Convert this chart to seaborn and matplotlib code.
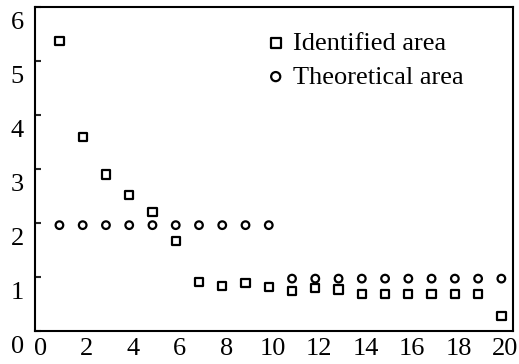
import matplotlib
matplotlib.use("Agg")
import matplotlib.pyplot as plt
import matplotlib.transforms as mtransforms
import seaborn as sns
import pandas as pd

# Data
index = list(range(1, 21))
identified = [5.37, 3.59, 2.90, 2.52, 2.20, 1.67, 0.91, 0.83, 0.89, 0.81,
              0.74, 0.80, 0.77, 0.69, 0.69, 0.69, 0.69, 0.69, 0.69, 0.28]
theoretical = [1.96] * 10 + [0.97] * 10
x_ticks = list(range(0, 21, 2))
y_ticks = [0, 1, 2, 3, 4, 5, 6]

df = pd.DataFrame({"x": index * 2,
                   "y": identified + theoretical,
                   "series": ["Identified area"] * 20 + ["Theoretical area"] * 20})

sns.set_style("white")
plt.rcParams["font.family"] = ["Liberation Serif", "DejaVu Serif"]

fig = plt.figure(figsize=(5.19, 3.64), dpi=100)
ax = fig.add_axes([35 / 519, 1 - 331 / 364, 478 / 519, 324 / 364])

sns.scatterplot(data=df[df.series == "Identified area"], x="x", y="y", ax=ax,
                marker="s", s=36, facecolor="none", edgecolor="black",
                linewidth=1.6, label="Identified area")
sns.scatterplot(data=df[df.series == "Theoretical area"], x="x", y="y", ax=ax,
                marker="o", s=30, facecolor="none", edgecolor="black",
                linewidth=1.6, label="Theoretical area")

ax.set_xlim(-0.05, 20.5)
ax.set_ylim(0, 6)
ax.set_xlabel("")
ax.set_ylabel("")
ax.set_xticks(x_ticks)
ax.set_xticklabels([str(v) for v in x_ticks])
ax.set_yticks(y_ticks)
ax.set_yticklabels([str(v) for v in y_ticks])

for s in ax.spines.values():
    s.set_color("black")
    s.set_linewidth(1.5)

ax.tick_params(axis="x", length=0, pad=5, labelsize=19, labelcolor="black")
ax.tick_params(axis="y", direction="in", length=4, width=1.5, pad=8,
               labelsize=19, left=True, labelcolor="black")

# y labels sit below their tick marks in the reference
off_y = mtransforms.ScaledTranslation(0, -22 / 100, fig.dpi_scale_trans)
for lab in ax.get_yticklabels():
    lab.set_verticalalignment("baseline")
    lab.set_transform(lab.get_transform() + off_y)
off_x = mtransforms.ScaledTranslation(4 / 100, 0, fig.dpi_scale_trans)
for lab in ax.get_xticklabels():
    lab.set_transform(lab.get_transform() + off_x)

leg = ax.legend(loc="upper left", bbox_to_anchor=(0.487, 0.925), frameon=False,
                fontsize=19, handlelength=0.6, handletextpad=0.35,
                borderpad=0, labelspacing=0.39, borderaxespad=0,
                markerscale=1.2, labelcolor="black")

fig.savefig("out.png", dpi=100)
